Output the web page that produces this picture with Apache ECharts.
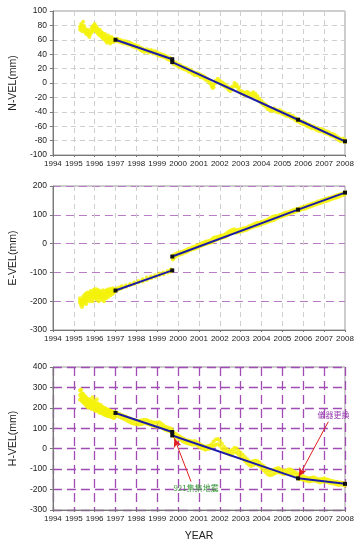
<!DOCTYPE html>
<html>
<head>
<meta charset="utf-8">
<script src="https://cdn.jsdelivr.net/npm/echarts@6/dist/echarts.min.js"></script>
<style>
  html, body { margin: 0; padding: 0; background: #fff; }
  #chart { width: 358px; height: 547px; }
</style>
</head>
<body>
<div id="chart"></div>
<script>
// rows: [year, value, value, ...]  (several GPS points read at the same epoch)
const nRows = [
  [1995.30, 78, 74], [1995.35, 82, 76], [1995.40, 80, 72], [1995.45, 77, 85], [1995.50, 79, 73],
  [1995.55, 75, 70], [1995.60, 72, 68], [1995.65, 70, 74], [1995.70, 66, 72], [1995.75, 69, 64],
  [1995.80, 73, 68], [1995.85, 76, 70], [1995.90, 78, 72], [1995.95, 80, 74], [1996.00, 82, 76],
  [1996.05, 79, 73], [1996.10, 77, 71], [1996.15, 75, 69], [1996.20, 72, 67], [1996.25, 74, 68],
  [1996.30, 71, 65], [1996.35, 70, 64], [1996.40, 68, 62], [1996.45, 66, 61], [1996.50, 68, 60],
  [1996.55, 64, 58], [1996.60, 62, 56], [1996.65, 66, 59], [1996.70, 63, 57], [1996.75, 61, 55],
  [1996.80, 64, 58], [1996.85, 62, 60], [1996.90, 60, 57], [1996.95, 61, 59],
  [1997.1, 58, 61], [1997.2, 57, 60], [1997.3, 56, 59], [1997.4, 55, 58], [1997.5, 55, 58],
  [1997.6, 53, 56], [1997.7, 53, 56], [1997.8, 51, 54], [1997.9, 50, 53], [1998.0, 49, 52],
  [1998.1, 48, 51], [1998.2, 46, 49], [1998.3, 44, 48], [1998.4, 43, 46], [1998.5, 44, 47],
  [1998.6, 42, 45], [1998.7, 43, 46], [1998.8, 41, 44], [1998.9, 41, 44], [1999.0, 39, 42],
  [1999.1, 38, 41], [1999.2, 37, 40], [1999.3, 36, 39], [1999.4, 35, 38], [1999.5, 33, 36],
  [1999.6, 32, 35], [1999.7, 30, 33],
  [1999.8, 26, 29], [1999.9, 25, 28], [2000.0, 23, 26], [2000.1, 22, 25], [2000.2, 20, 23],
  [2000.3, 19, 22], [2000.4, 18, 21], [2000.5, 16, 19], [2000.6, 15, 18], [2000.7, 13, 16],
  [2000.8, 11, 14], [2000.9, 11, 14], [2001.0, 10, 13], [2001.1, 8, 11], [2001.2, 7, 10],
  [2001.3, 5, 8], [2001.4, 3, 6], [2001.5, 0, 3], [2001.6, -4, -1], [2001.65, -7, -3],
  [2001.7, -6, -2], [2001.8, 0, 3], [2001.9, 3, 6], [2002.0, 0, 3], [2002.1, -2, 1],
  [2002.2, -4, -1], [2002.3, -6, -3], [2002.4, -9, -6], [2002.5, -11, -7], [2002.6, -9, -5],
  [2002.7, -4, 0], [2002.8, -5, -2], [2002.9, -9, -6], [2003.0, -14, -11], [2003.1, -15, -12],
  [2003.2, -17, -14], [2003.3, -16, -12], [2003.4, -18, -14], [2003.5, -19, -15], [2003.6, -17, -13],
  [2003.7, -19, -15], [2003.8, -22, -18], [2003.9, -25, -22], [2004.0, -28, -25], [2004.1, -31, -28],
  [2004.2, -33, -30], [2004.3, -36, -33], [2004.4, -38, -35], [2004.5, -39, -36], [2004.6, -38, -35],
  [2004.7, -40, -37], [2004.8, -41, -38], [2004.9, -41, -38], [2005.0, -43, -40], [2005.1, -44, -41],
  [2005.2, -46, -43], [2005.3, -46, -43], [2005.4, -48, -45], [2005.5, -49, -46], [2005.6, -51, -48],
  [2005.7, -53, -50], [2005.8, -54, -51], [2005.9, -56, -53], [2006.0, -57, -54], [2006.1, -58, -55],
  [2006.2, -60, -57], [2006.3, -61, -58], [2006.4, -63, -60], [2006.5, -63, -60], [2006.6, -65, -62],
  [2006.7, -66, -63], [2006.8, -67, -64], [2006.9, -67, -64], [2007.0, -69, -66], [2007.1, -70, -67],
  [2007.2, -71, -68], [2007.3, -73, -70], [2007.4, -74, -71], [2007.5, -75, -72], [2007.6, -77, -74],
  [2007.7, -79, -76], [2007.8, -81, -78], [2007.9, -80, -77], [2008.0, -82, -79]
];

const eRows = [
  [1995.30, -205, -190, -198], [1995.35, -215, -195, -205], [1995.40, -220, -200, -210],
  [1995.45, -210, -185, -198], [1995.50, -205, -180, -192], [1995.55, -200, -175, -188],
  [1995.60, -210, -190, -200], [1995.65, -195, -170, -182], [1995.70, -190, -172, -180],
  [1995.75, -200, -180, -190], [1995.80, -185, -165, -175], [1995.85, -195, -175, -185],
  [1995.90, -200, -170, -186], [1995.95, -180, -160, -170], [1996.00, -190, -165, -178],
  [1996.05, -185, -158, -172], [1996.10, -195, -170, -182], [1996.15, -180, -160, -170],
  [1996.20, -200, -175, -188], [1996.25, -185, -165, -175], [1996.30, -190, -168, -180],
  [1996.35, -195, -175, -185], [1996.40, -180, -162, -172], [1996.45, -200, -178, -190],
  [1996.50, -185, -165, -175], [1996.55, -190, -170, -180], [1996.60, -178, -160, -170],
  [1996.65, -185, -165, -175], [1996.70, -175, -158, -166], [1996.75, -180, -162, -172],
  [1996.80, -172, -160, -166], [1996.85, -175, -155, -165], [1996.90, -170, -160, -165],
  [1996.95, -168, -158, -163],
  [1997.1, -160, -155], [1997.2, -158, -152], [1997.3, -155, -148], [1997.5, -150, -145],
  [1997.7, -145, -140], [1997.9, -140, -135], [1998.1, -135, -130], [1998.3, -132, -124],
  [1998.5, -126, -118], [1998.7, -120, -114], [1998.9, -115, -110], [1999.1, -110, -104],
  [1999.3, -106, -100], [1999.5, -100, -95], [1999.65, -97, -90],
  [1999.75, -55, -42], [1999.8, -50, -40], [1999.9, -45, -35], [2000.0, -40, -32],
  [2000.1, -38, -30], [2000.2, -35, -28], [2000.3, -32, -25], [2000.4, -30, -22],
  [2000.5, -26, -18], [2000.6, -22, -16], [2000.7, -20, -12], [2000.8, -18, -10],
  [2000.9, -14, -6], [2001.0, -12, -4], [2001.1, -8, 0], [2001.2, -5, 3], [2001.3, -2, 6],
  [2001.4, 0, 8], [2001.5, 2, 10], [2001.6, 4, 14], [2001.7, 8, 20], [2001.8, 12, 22],
  [2001.9, 15, 24], [2002.0, 18, 26], [2002.1, 20, 28], [2002.2, 22, 30], [2002.3, 25, 35],
  [2002.4, 30, 40], [2002.5, 35, 45], [2002.6, 38, 48], [2002.7, 40, 50], [2002.8, 38, 46],
  [2002.9, 40, 48], [2003.0, 42, 50], [2003.1, 44, 52], [2003.2, 46, 54], [2003.3, 48, 56],
  [2003.4, 52, 60], [2003.5, 55, 63], [2003.6, 58, 66], [2003.7, 60, 70], [2003.8, 62, 72],
  [2003.9, 64, 72], [2004.0, 68, 76], [2004.1, 70, 78], [2004.2, 72, 80], [2004.3, 75, 84],
  [2004.4, 78, 88], [2004.5, 80, 92], [2004.6, 82, 95], [2004.7, 86, 96], [2004.8, 90, 98],
  [2004.9, 92, 100], [2005.0, 95, 103], [2005.1, 98, 106], [2005.2, 100, 108], [2005.3, 103, 110],
  [2005.4, 106, 113], [2005.5, 108, 116], [2005.6, 110, 118], [2005.7, 113, 120], [2005.8, 115, 122],
  [2005.9, 118, 125], [2006.0, 120, 128], [2006.1, 122, 130], [2006.2, 125, 133], [2006.3, 128, 135],
  [2006.4, 130, 138], [2006.5, 133, 140], [2006.6, 136, 143], [2006.7, 138, 146], [2006.8, 140, 148],
  [2006.9, 143, 151], [2007.0, 146, 153], [2007.1, 148, 156], [2007.2, 150, 158], [2007.3, 153, 160],
  [2007.4, 156, 162], [2007.5, 158, 165], [2007.6, 160, 168], [2007.7, 163, 170], [2007.8, 166, 172],
  [2007.9, 168, 175], [2008.0, 172, 178]
];

const hRows = [
  [1995.30, 240, 262, 285], [1995.35, 245, 265, 290], [1995.40, 232, 252, 272],
  [1995.45, 228, 248, 268], [1995.50, 222, 242, 260], [1995.55, 218, 238, 255],
  [1995.60, 212, 232, 250], [1995.65, 206, 226, 244], [1995.70, 202, 222, 238],
  [1995.75, 205, 225, 242], [1995.80, 200, 218, 234], [1995.85, 195, 215, 232],
  [1995.90, 200, 222, 252], [1995.95, 195, 215, 236], [1996.00, 190, 210, 228],
  [1996.05, 185, 205, 222], [1996.10, 190, 212, 242], [1996.15, 185, 202, 222],
  [1996.20, 180, 198, 215], [1996.25, 175, 195, 212], [1996.30, 180, 196, 214],
  [1996.35, 175, 190, 206], [1996.40, 170, 188, 202], [1996.45, 168, 185, 200],
  [1996.50, 165, 182, 198], [1996.55, 165, 180, 195], [1996.60, 160, 178, 192],
  [1996.65, 162, 176, 190], [1996.70, 158, 172, 188], [1996.75, 160, 175, 185],
  [1996.80, 155, 170, 185], [1996.85, 158, 168, 180], [1996.90, 150, 165, 178],
  [1996.95, 152, 168, 180],
  [1997.1, 160, 175], [1997.2, 155, 170], [1997.3, 150, 165], [1997.4, 145, 160],
  [1997.5, 140, 158], [1997.6, 135, 152], [1997.7, 130, 148], [1997.8, 125, 142],
  [1997.9, 122, 140], [1998.0, 120, 138], [1998.1, 118, 135], [1998.2, 120, 138],
  [1998.3, 122, 140], [1998.4, 125, 142], [1998.5, 122, 140], [1998.6, 118, 136],
  [1998.7, 115, 132], [1998.8, 112, 130], [1998.9, 110, 128], [1999.0, 108, 128],
  [1999.1, 110, 130], [1999.2, 105, 122], [1999.3, 98, 115], [1999.4, 92, 108],
  [1999.5, 88, 104], [1999.6, 85, 100], [1999.7, 80, 95],
  [1999.8, 60, 78], [1999.9, 55, 72], [2000.0, 50, 65], [2000.1, 45, 60], [2000.2, 38, 52],
  [2000.3, 32, 48], [2000.4, 28, 42], [2000.5, 25, 40], [2000.6, 22, 38], [2000.7, 20, 35],
  [2000.8, 22, 38], [2000.9, 18, 32], [2001.0, 10, 25], [2001.1, 5, 20], [2001.2, 0, 15],
  [2001.3, -5, 10], [2001.4, -2, 12], [2001.5, 0, 15], [2001.6, 5, 22], [2001.7, 15, 35],
  [2001.8, 20, 45], [2001.9, 22, 48], [2002.0, 15, 40], [2002.1, 0, 25], [2002.2, -10, 10],
  [2002.3, -20, 0], [2002.4, -25, -8], [2002.5, -30, -12], [2002.6, -25, -5], [2002.7, -15, 5],
  [2002.8, -20, 2], [2002.9, -30, -10], [2003.0, -40, -20], [2003.1, -50, -30], [2003.2, -60, -40],
  [2003.3, -70, -50], [2003.4, -80, -60], [2003.5, -85, -65], [2003.6, -80, -60], [2003.7, -75, -58],
  [2003.8, -78, -60], [2003.9, -85, -68], [2004.0, -95, -78], [2004.1, -105, -85], [2004.2, -115, -95],
  [2004.3, -125, -105], [2004.4, -130, -110], [2004.5, -128, -108], [2004.6, -122, -102],
  [2004.7, -118, -98], [2004.8, -115, -95], [2004.9, -118, -100], [2005.0, -122, -105],
  [2005.1, -125, -108], [2005.2, -120, -105], [2005.3, -118, -100], [2005.4, -120, -102],
  [2005.5, -125, -108], [2005.6, -135, -115], [2005.7, -140, -120], [2005.8, -148, -128],
  [2005.9, -150, -132], [2006.0, -152, -135], [2006.1, -155, -140], [2006.2, -158, -142],
  [2006.3, -160, -145], [2006.4, -158, -142], [2006.5, -155, -140], [2006.6, -158, -145],
  [2006.7, -162, -148], [2006.8, -165, -150], [2006.9, -162, -148], [2007.0, -160, -145],
  [2007.1, -162, -150], [2007.2, -165, -152], [2007.3, -168, -155], [2007.4, -170, -158],
  [2007.5, -172, -160], [2007.6, -175, -162], [2007.7, -178, -165], [2007.8, -175, -165],
  [2007.9, -178, -168], [2008.0, -180, -170]
];

// fitted velocity segments (break at 921 Chi-Chi earthquake)
const nFit1 = [[1997.0, 60], [1999.72, 33]];
const nFit2 = [[1999.72, 29], [2005.75, -51], [2008.0, -81]];
const eFit1 = [[1997.0, -163], [1999.72, -93]];
const eFit2 = [[1999.72, -45], [2005.75, 118], [2008.0, 177]];
const hFit1 = [[1997.0, 175], [1999.72, 82]];
const hFit2 = [[1999.72, 65], [2005.75, -145], [2008.0, -172]];

const axisNames = ["N-VEL(mm)", "E-VEL(mm)", "H-VEL(mm)"];
const yRanges = [[-100, 100, 20], [-300, 200, 100], [-300, 400, 100]];

// annotations on the H panel: [from, to] in data coords, and text labels
const arrows = [
  [[2000.62, -161], [1999.82, 51]],
  [[2007.2, 132], [2005.78, -137]]
];
const notes = [
  { text: "921集集地震", at: [2000.86, -190], color: "#3f9a3f" },
  { text: "儀器更換", at: [2007.45, 165], color: "#9a3fb0" }
];

const toPoints = (rows) => rows.flatMap((r) => r.slice(1).map((v) => [r[0], v]));

const font = "Liberation Sans, Arial, sans-serif";
const grids = [
  { left: 51, right: 13, top: 11, height: 144 },
  { left: 51, right: 13, top: 186, height: 144 },
  { left: 51, right: 13, top: 367, height: 143 }
];
const gridStyle = [
  { x: { color: "#cfcfcf", width: 1, type: [5, 4] }, y: { color: "#cfcfcf", width: 1, type: [5, 4] } },
  { x: { color: "#cfcfcf", width: 1, type: [5, 4] }, y: { color: "#b77cc4", width: 1, type: [8, 5] } },
  { x: { color: "#a04cb4", width: 1.3, type: [9, 5] }, y: { color: "#a04cb4", width: 1.3, type: [9, 5] } }
];

const xAxis = grids.map((g, i) => ({
  gridIndex: i,
  type: "value",
  min: 1994,
  max: 2008,
  interval: 1,
  name: i === 2 ? "YEAR" : "",
  nameLocation: "middle",
  nameGap: 21,
  nameTextStyle: { color: "#222", fontFamily: font, fontSize: 10.5 },
  axisLine: { onZero: false, lineStyle: { color: "#777" } },
  axisTick: { show: true, length: 2, lineStyle: { color: "#777" } },
  axisLabel: { color: "#222", fontFamily: font, fontSize: 8, margin: 5, formatter: (v) => String(v) },
  splitLine: { show: true, lineStyle: gridStyle[i].x }
}));

const yAxis = grids.map((g, i) => ({
  gridIndex: i,
  type: "value",
  min: yRanges[i][0],
  max: yRanges[i][1],
  interval: yRanges[i][2],
  name: axisNames[i],
  nameLocation: "middle",
  nameGap: 32,
  nameTextStyle: { color: "#222", fontFamily: font, fontSize: 10.5 },
  axisLine: { show: true, onZero: false, lineStyle: { color: "#777" } },
  axisTick: { show: true, length: 3, lineStyle: { color: "#777" } },
  axisLabel: { color: "#222", fontFamily: font, fontSize: 8.5, margin: 6 },
  splitLine: { show: true, lineStyle: gridStyle[i].y }
}));

const scatter = (rows, i) => ({
  type: "scatter",
  xAxisIndex: i,
  yAxisIndex: i,
  data: toPoints(rows),
  symbolSize: 4,
  itemStyle: { color: "#f5f20a", opacity: 0.85 },
  silent: true,
  z: 2
});

const fit = (pts, i, extra) => Object.assign({
  type: "line",
  xAxisIndex: i,
  yAxisIndex: i,
  data: pts,
  symbol: "rect",
  symbolSize: 4,
  showSymbol: true,
  lineStyle: { color: "#1c1ca8", width: 2 },
  itemStyle: { color: "#111" },
  z: 5
}, extra || {});

const chart = echarts.init(document.getElementById("chart"), null, { renderer: "canvas" });
chart.setOption({
  animation: false,
  backgroundColor: "#fff",
  grid: grids.map((g) => Object.assign({ show: true, borderColor: "#999", borderWidth: 1 }, g)),
  xAxis,
  yAxis,
  series: [
    scatter(nRows, 0), fit(nFit1, 0), fit(nFit2, 0),
    scatter(eRows, 1), fit(eFit1, 1), fit(eFit2, 1),
    scatter(hRows, 2), fit(hFit1, 2),
    fit(hFit2, 2, {
      markLine: {
        silent: true,
        symbol: ["none", "arrow"],
        symbolSize: [6, 9],
        lineStyle: { color: "#e02020", width: 1, type: "solid" },
        label: { show: false },
        data: arrows.map(([a, b]) => [{ coord: a }, { coord: b }])
      },
      markPoint: {
        silent: true,
        symbol: "rect",
        symbolSize: 1,
        itemStyle: { color: "rgba(0,0,0,0)" },
        data: notes.map((n) => ({
          name: n.text,
          coord: n.at,
          label: {
            show: true,
            position: "inside",
            formatter: "{b}",
            color: n.color,
            fontSize: 8,
            fontFamily: "Noto Sans CJK TC, sans-serif"
          }
        }))
      }
    })
  ]
});
</script>
</body>
</html>
